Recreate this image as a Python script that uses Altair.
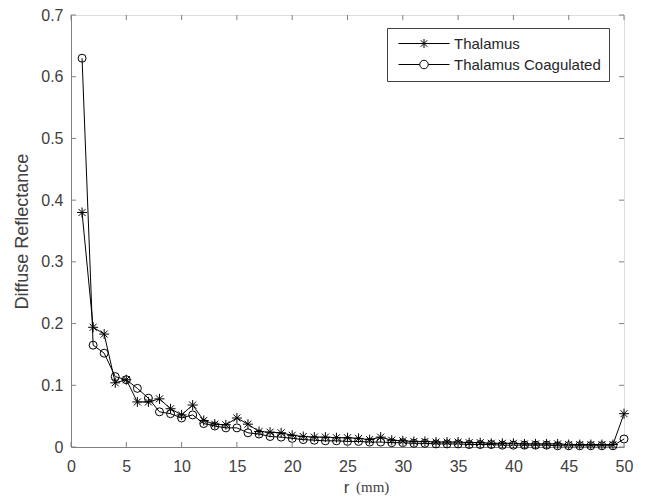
import altair as alt
import pandas as pd

r_mm = list(range(1, 51))
thalamus = [0.380, 0.194, 0.183, 0.104, 0.109, 0.073, 0.073, 0.078, 0.062, 0.052,
            0.068, 0.043, 0.037, 0.036, 0.047, 0.037, 0.025, 0.024, 0.023, 0.019,
            0.017, 0.016, 0.016, 0.015, 0.015, 0.014, 0.012, 0.016, 0.011, 0.010,
            0.009, 0.009, 0.008, 0.008, 0.008, 0.007, 0.007, 0.006, 0.006, 0.006,
            0.005, 0.005, 0.005, 0.005, 0.004, 0.004, 0.004, 0.004, 0.004, 0.054]
coagulated = [0.630, 0.165, 0.152, 0.114, 0.109, 0.095, 0.079, 0.057, 0.054, 0.047,
              0.052, 0.038, 0.034, 0.031, 0.031, 0.023, 0.021, 0.017, 0.016, 0.014,
              0.012, 0.011, 0.010, 0.010, 0.009, 0.009, 0.008, 0.008, 0.007, 0.007,
              0.006, 0.006, 0.005, 0.005, 0.005, 0.004, 0.004, 0.004, 0.003, 0.003,
              0.003, 0.003, 0.003, 0.002, 0.002, 0.002, 0.002, 0.002, 0.002, 0.013]
series_names = ["Thalamus", "Thalamus Coagulated"]
x_ticks = [0, 5, 10, 15, 20, 25, 30, 35, 40, 45, 50]
y_ticks = [0, 0.1, 0.2, 0.3, 0.4, 0.5, 0.6, 0.7]

W, H = 553, 432
FONT = "Liberation Sans"
AX = "#808080"
LBL = "#404040"

df = pd.DataFrame({
    "r": r_mm * 2,
    "value": thalamus + coagulated,
    "series": [series_names[0]] * len(r_mm) + [series_names[1]] * len(r_mm),
})
xt = pd.DataFrame({"t": x_ticks})
yt = pd.DataFrame({"t": y_ticks})

ASTER = "M-1,0H1M0,-1V1M-0.7,-0.7L0.7,0.7M-0.7,0.7L0.7,-0.7"
# legend symbols (unit = 5px with symbolSize 100): line + marker
LEG_ASTER = ("M-0.8,0H9.4M3.4,0H5.2M4.3,-0.9V0.9"
             "M3.65,-0.65L4.95,0.65M3.65,0.65L4.95,-0.65")
LEG_CIRCLE = ("M-0.8,0H3.45M5.15,0H9.4"
              "M3.45,0A0.85,0.85 0 1,1 5.15,0A0.85,0.85 0 1,1 3.45,0")

xs = alt.Scale(domain=[0, 50], nice=False, zero=False)
ys = alt.Scale(domain=[0, 0.7], nice=False, zero=False)

x_enc = alt.X("r:Q", scale=xs, axis=alt.Axis(
    values=x_ticks, ticks=False, grid=False, domainColor=AX, labelColor=LBL,
    labelFont=FONT, labelFontSize=16, labelPadding=11, labelFlush=False,
    title="r", titleFont=FONT, titleFontSize=17, titleFontWeight="normal",
    titleColor=LBL, titleX=275, titleY=40, titleBaseline="middle", titleAlign="center"))
y_enc = alt.Y("value:Q", scale=ys, axis=alt.Axis(
    values=y_ticks, ticks=False, grid=False, domainColor=AX, labelColor=LBL,
    labelFont=FONT, labelFontSize=16, labelPadding=8, labelFlush=False,
    labelExpr="datum.value == 0 ? '0' : format(datum.value, '.1f')",
    title="Diffuse Reflectance", titleFont=FONT, titleFontSize=18,
    titleFontWeight="normal", titleColor=LBL, titleX=-49, titleY=H / 2,
    titleAngle=270, titleBaseline="middle", titleAlign="center"))

base = alt.Chart(df)
lines = base.mark_line(color="black", strokeWidth=1).encode(
    x=x_enc, y=y_enc, detail="series:N")
pts_a = base.transform_filter(alt.datum.series == series_names[0]).mark_point(
    shape=ASTER, size=100, filled=False, color="black", strokeWidth=1, opacity=1
).encode(x="r:Q", y="value:Q")
pts_c = base.transform_filter(alt.datum.series == series_names[1]).mark_point(
    shape="circle", size=64, filled=False, color="black", strokeWidth=1, opacity=1
).encode(x="r:Q", y="value:Q")

legend_layer = base.transform_filter("false").mark_point(filled=False, color="black").encode(
    x="r:Q", y="value:Q",
    shape=alt.Shape("series:N", scale=alt.Scale(domain=series_names, range=[LEG_ASTER, LEG_CIRCLE]),
                    legend=alt.Legend(
                        title=None, orient="none", legendX=316, legendY=13,
                        strokeColor="#404040", fillColor="white", padding=8,
                        labelFont=FONT, labelFontSize=15, labelColor="#262626",
                        labelOffset=44, rowPadding=5, symbolSize=100,
                        symbolStrokeWidth=1, symbolStrokeColor="black",
                        symbolFillColor="transparent", symbolOpacity=1)))

tick_len = 5
ytl = alt.Chart(yt).mark_rule(color=AX).encode(y=alt.Y("t:Q", scale=ys), x=alt.value(0), x2=alt.value(tick_len))
ytr = alt.Chart(yt).mark_rule(color=AX).encode(y=alt.Y("t:Q", scale=ys), x=alt.value(W - tick_len), x2=alt.value(W))
xtb = alt.Chart(xt).mark_rule(color=AX).encode(x=alt.X("t:Q", scale=xs), y=alt.value(H - tick_len), y2=alt.value(H))
xtt = alt.Chart(xt).mark_rule(color=AX).encode(x=alt.X("t:Q", scale=xs), y=alt.value(0), y2=alt.value(tick_len))

unit = alt.Chart(pd.DataFrame({"u": ["(mm)"]})).mark_text(
    font="Liberation Serif", fontSize=15, color=LBL, align="left", baseline="middle"
).encode(text="u:N", x=alt.value(285), y=alt.value(H + 40))

chart = alt.layer(lines, pts_a, pts_c, legend_layer, ytl, ytr, xtb, xtt, unit).properties(
    width=W, height=H,
    autosize=alt.AutoSizeParams(type="none"),
    padding={"left": 63, "top": 7, "right": 10, "bottom": 48},
).configure_view(stroke=AX, strokeWidth=1).configure(background="white")

chart.save("out.html", embed_options={"renderer": "svg", "actions": False})
